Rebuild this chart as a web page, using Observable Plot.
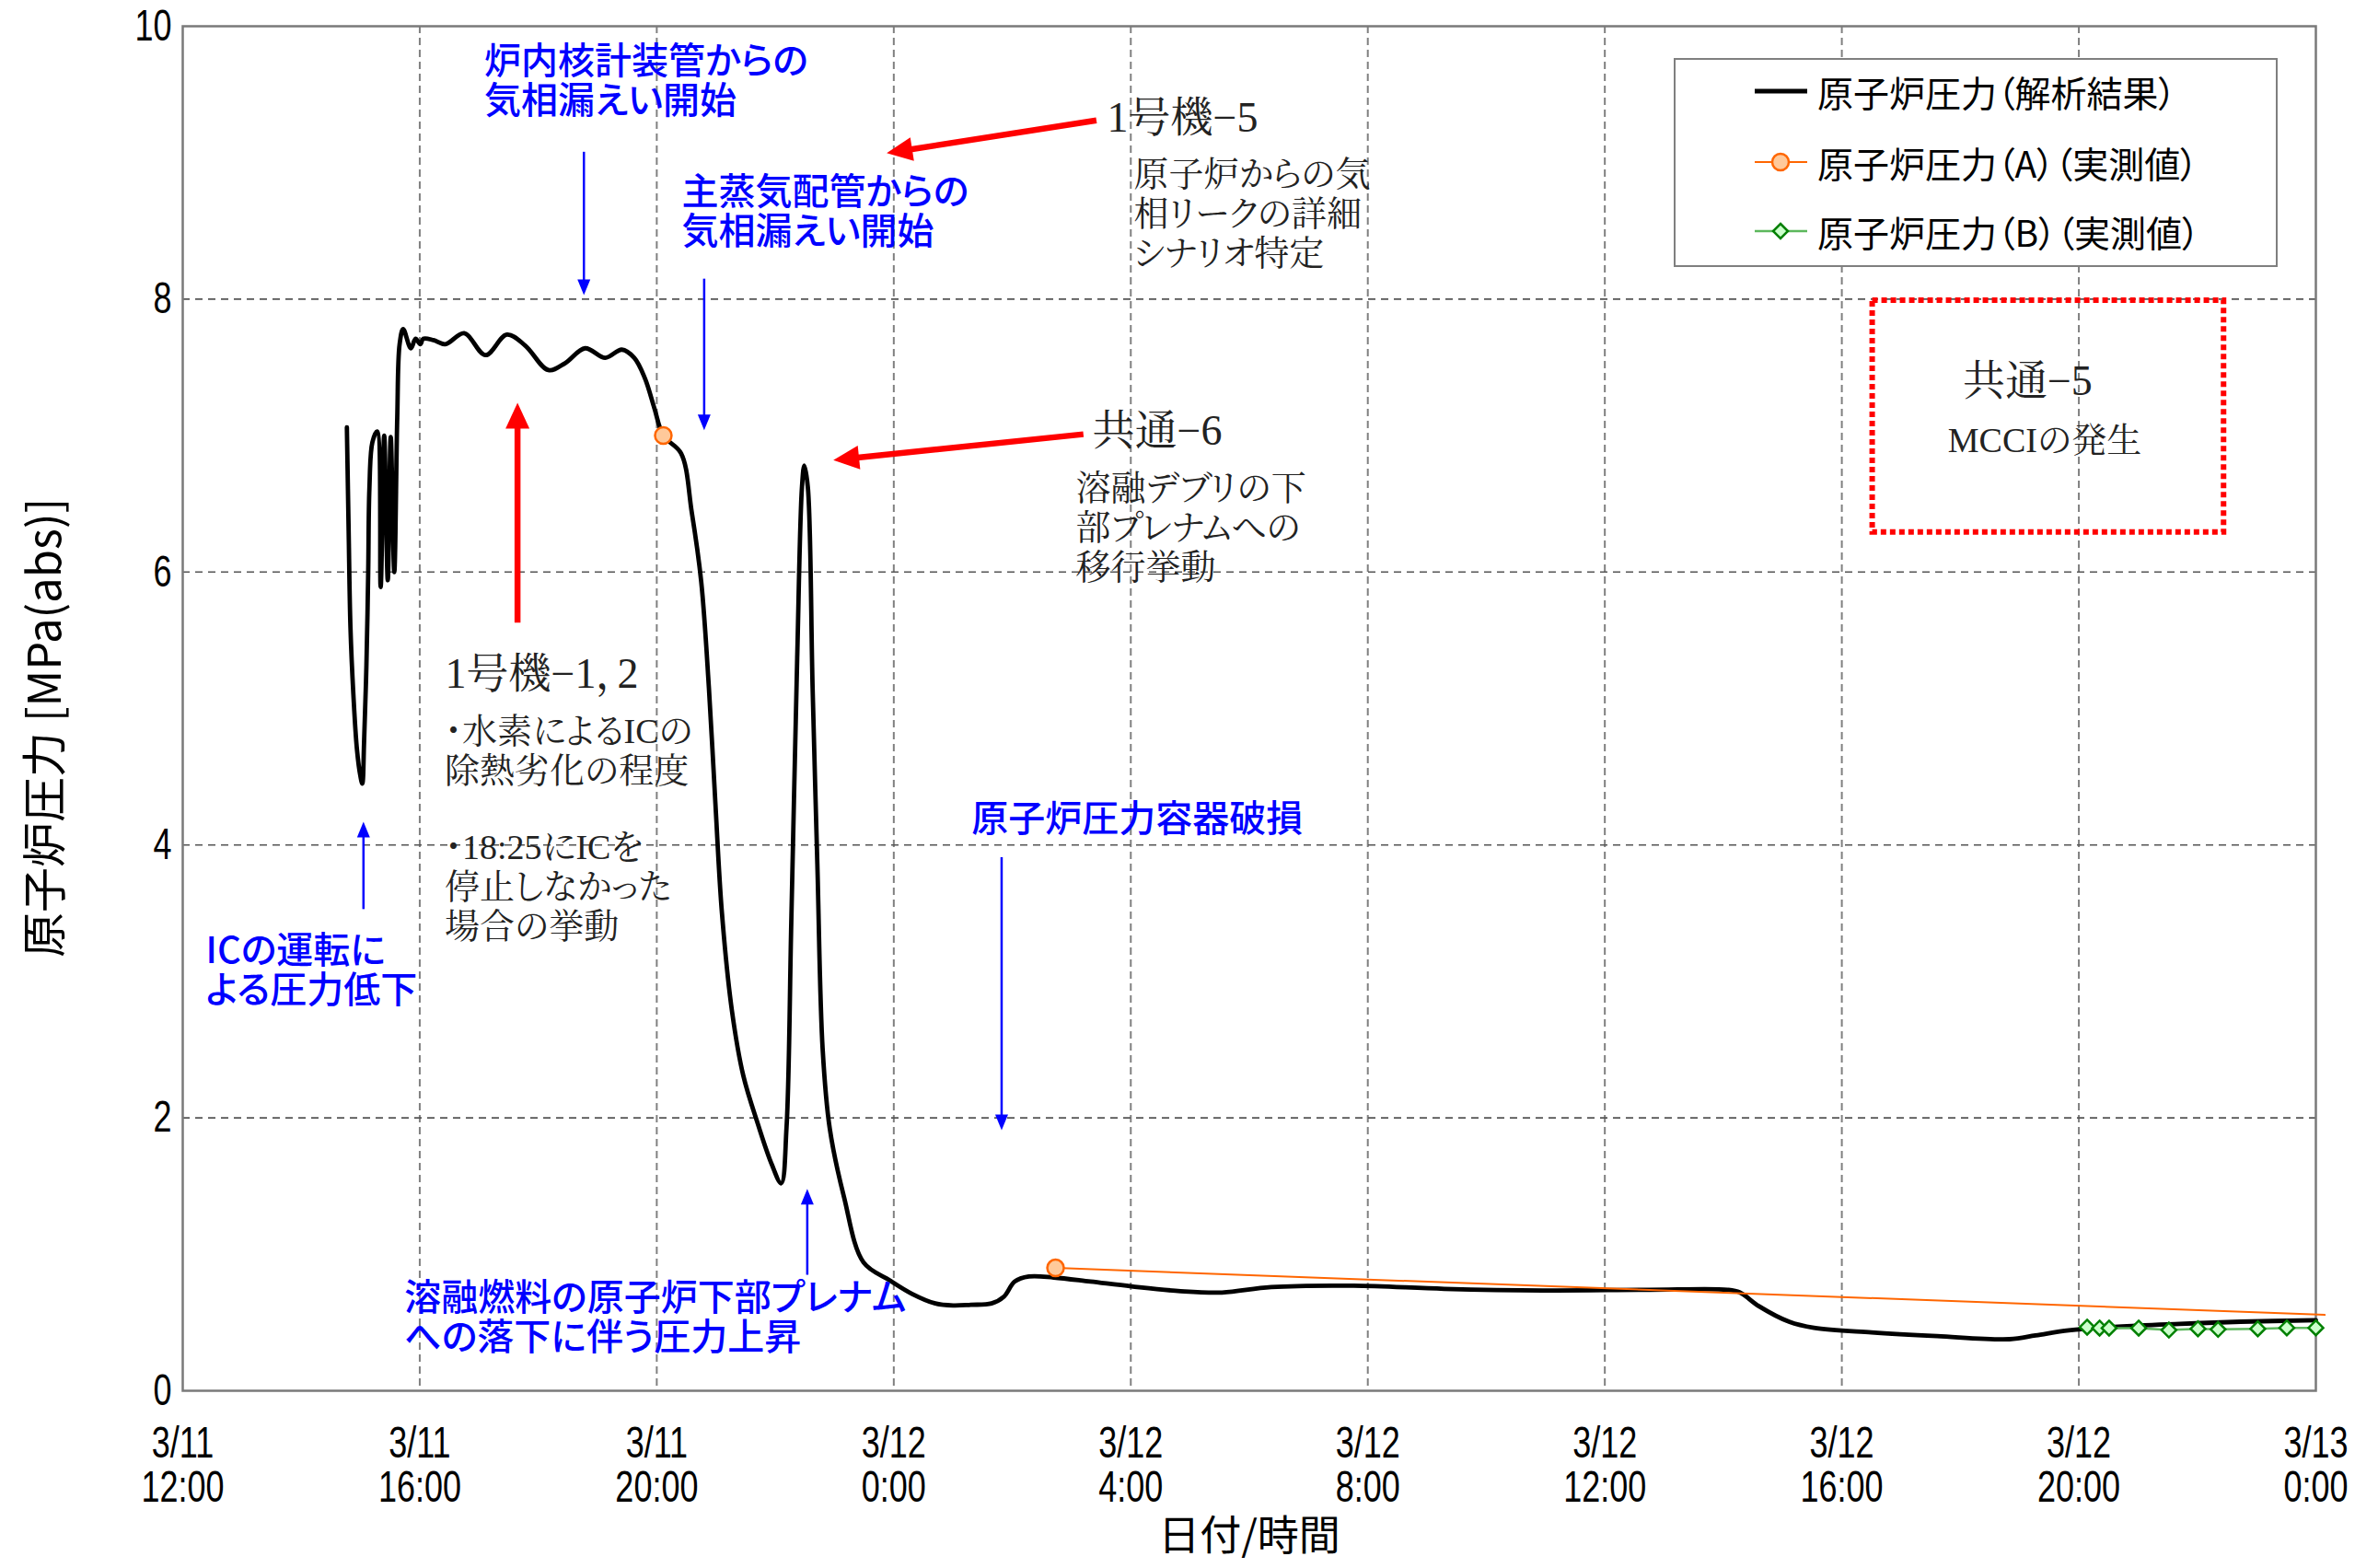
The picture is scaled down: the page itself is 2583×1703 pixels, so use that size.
<!DOCTYPE html>
<html><head><meta charset="utf-8">
<script src="https://cdn.jsdelivr.net/npm/d3@7"></script>
<script src="https://cdn.jsdelivr.net/npm/@observablehq/plot@0.6"></script>
<style>
html,body{margin:0;padding:0;background:#fff;}
#wrap{position:relative;width:2583px;height:1703px;overflow:hidden;background:#fff;}
#legend{position:absolute;left:1818px;top:63px;width:652px;height:223px;border:2px solid #7f7f7f;background:#fff;
  font-family:"Noto Sans CJK JP",sans-serif;font-feature-settings:"palt";font-size:39px;color:#000;}
.row{position:absolute;left:0;height:60px;display:flex;align-items:center;white-space:nowrap;}
.row svg{margin-left:86px;flex:none;}
.row span{margin-left:8px;}
</style></head><body><div id="wrap"></div>
<script>
// ---- data (time = hours since 3/11 12:00, pressure in MPa(abs)) ----
const xTicks = [0, 4, 8, 12, 16, 20, 24, 28, 32, 36];
const xTickLabels = ["3/11\n12:00","3/11\n16:00","3/11\n20:00","3/12\n0:00","3/12\n4:00","3/12\n8:00","3/12\n12:00","3/12\n16:00","3/12\n20:00","3/13\n0:00"];
const yTicks = [0, 2, 4, 6, 8, 10];
const xAxisLabel = "日付/時間";
const yAxisLabel = "原子炉圧力 [MPa(abs)]";
const legendLabels = ["原子炉圧力（解析結果）", "原子炉圧力（A）（実測値）", "原子炉圧力（B）（実測値）"];

const analysisHours = [2.77,2.80,2.83,2.88,2.94,3.00,3.03,3.06,3.10,3.13,3.15,3.20,3.28,3.34,3.40,3.46,3.51,3.57,3.62,3.66,3.72,3.85,3.93,4.01,4.06,4.23,4.43,4.75,5.11,5.47,5.78,6.17,6.45,6.79,7.13,7.41,7.62,7.80,7.96,8.11,8.41,8.59,8.75,8.88,8.99,9.10,9.27,9.46,9.71,9.94,10.10,10.19,10.27,10.37,10.45,10.49,10.55,10.63,10.71,10.80,10.92,11.16,11.49,11.93,12.31,12.70,13.00,13.30,13.65,13.86,14.04,14.28,14.70,15.32,16.01,16.84,17.54,18.37,19.76,21.29,22.95,24.75,26.07,26.28,26.60,27.11,27.53,28.50,29.61,30.83,31.27,31.83,32.66,33.70,34.73,36.00];
const analysisPressure = [7.06,6.30,5.60,5.10,4.70,4.50,4.45,4.75,5.32,6.00,6.61,6.95,7.03,5.89,7.00,5.94,6.99,6.00,7.13,7.67,7.78,7.64,7.71,7.67,7.71,7.70,7.67,7.75,7.59,7.74,7.66,7.48,7.53,7.64,7.57,7.63,7.57,7.42,7.20,7.00,6.87,6.44,5.93,5.15,4.30,3.50,2.78,2.31,1.95,1.66,1.52,1.93,3.43,5.37,6.62,6.78,6.62,5.15,3.86,2.50,1.92,1.42,0.94,0.81,0.71,0.64,0.625,0.63,0.64,0.69,0.80,0.837,0.83,0.80,0.765,0.73,0.72,0.76,0.77,0.747,0.735,0.74,0.74,0.72,0.62,0.506,0.461,0.427,0.40,0.378,0.405,0.443,0.47,0.49,0.506,0.517];

const measuredAHours = [8.11, 11.40, 14.73, 36.15];
const measuredAPressure = [7.00, null, 0.90, 0.556];

const measuredBHours = [32.14, 32.35, 32.51, 33.01, 33.52, 34.01, 34.35, 35.02, 35.51, 36.00];
const measuredBPressure = [0.466, 0.459, 0.459, 0.459, 0.445, 0.454, 0.450, 0.454, 0.461, 0.461];

// annotations (in data coordinates)
const blueNotes = [
  {text: "炉内核計装管からの\n気相漏えい開始", h: 5.09, p: 9.60},
  {text: "主蒸気配管からの\n気相漏えい開始", h: 8.42, p: 8.64},
  {text: "ICの運転に\nよる圧力低下", h: 0.39, p: 3.08},
  {text: "原子炉圧力容器破損", h: 13.31, p: 4.19},
  {text: "溶融燃料の原子炉下部プレナム\nへの落下に伴う圧力上昇", h: 3.74, p: 0.54}
];
const blueArrows = [
  {h1: 6.77, p1: 9.08, h2: 6.77, p2: 8.03},
  {h1: 8.80, p1: 8.15, h2: 8.80, p2: 7.04},
  {h1: 3.05, p1: 3.53, h2: 3.05, p2: 4.17},
  {h1: 13.82, p1: 3.91, h2: 13.82, p2: 1.91},
  {h1: 10.54, p1: 0.85, h2: 10.54, p2: 1.48}
];
const redArrows = [
  {h1: 15.42, p1: 9.31, h2: 11.88, p2: 9.07},
  {h1: 15.20, p1: 7.01, h2: 10.98, p2: 6.82},
  {h1: 5.65, p1: 5.63, h2: 5.65, p2: 7.24}
];
const titleNotes = [
  {text: "1号機−5", h: 15.60, p: 9.33},
  {text: "共通−6", h: 15.35, p: 7.03},
  {text: "1号機−1，2", h: 4.43, p: 5.25},
  {text: "共通−5", h: 30.04, p: 7.40}
];
const bodyNotes = [
  {text: "原子炉からの気\n相リークの詳細\nシナリオ特定", h: 16.05, p: 8.63},
  {text: "溶融デブリの下\n部プレナムへの\n移行挙動", h: 15.07, p: 6.33},
  {text: "・水素によるICの\n除熱劣化の程度", h: 4.42, p: 4.695},
  {text: "・18:25にICを\n停止しなかった\n場合の挙動", h: 4.42, p: 3.70},
  {text: "MCCIの発生", h: 29.79, p: 6.97}
];
const mcciBox = [{h1: 28.52, h2: 34.45, p1: 6.29, p2: 7.99}];

// ---- build ----
const analysis = analysisHours.map((h, i) => ({h, p: analysisPressure[i]}));
const measuredA = measuredAHours.map((h, i) => ({h, p: measuredAPressure[i]}));
const measuredB = measuredBHours.map((h, i) => ({h, p: measuredBPressure[i]}));

const tickFont = "'Liberation Sans',Arial,sans-serif";
const gothic = "'Noto Sans CJK JP',sans-serif";
const serif = "'Liberation Serif','Noto Serif CJK JP','Noto Sans CJK JP',serif";

const svg = Plot.plot({
  width: 2583, height: 1703,
  marginLeft: 198, marginRight: 68, marginTop: 28, marginBottom: 193,
  x: {type: "linear", domain: [0, 36]},
  y: {domain: [0, 10]},
  style: {background: "#fff", color: "#000", overflow: "visible", fontFeatureSettings: "'palt'"},
  marks: [
    Plot.gridX(xTicks.slice(1, -1), {stroke: "#808080", strokeOpacity: 1, strokeWidth: 2, strokeDasharray: "8,5"}),
    Plot.gridY(yTicks.slice(1, -1), {stroke: "#555", strokeOpacity: 1, strokeWidth: 1.6, strokeDasharray: "8,6"}),
    Plot.frame({stroke: "#7a7a7a", strokeWidth: 2.5}),
    Plot.axisX(xTicks, {tickSize: 0, tickPadding: 38, tickFormat: d => xTickLabels[xTicks.indexOf(d)], fontSize: 48, fontFamily: tickFont, lineHeight: 1.0, label: null}),
    Plot.axisY(yTicks, {tickSize: 0, tickPadding: 12, tickFormat: d => String(d), fontSize: 48, fontFamily: tickFont, label: null}),
    Plot.text([xAxisLabel], {text: d => d, frameAnchor: "bottom", lineAnchor: "middle", textAnchor: "middle", dy: 159, fontSize: 45, fontFamily: gothic}),
    Plot.text([yAxisLabel], {text: d => d, frameAnchor: "left", textAnchor: "middle", lineAnchor: "middle", rotate: -90, dx: -148, dy: 21, fontSize: 49, fontFamily: gothic}),
    Plot.rect(mcciBox, {x1: "h1", x2: "h2", y1: "p1", y2: "p2", fill: "none", stroke: "#ff0000", strokeWidth: 6, strokeDasharray: "6,4"}),
    Plot.line(analysis, {x: "h", y: "p", stroke: "#000", strokeWidth: 4.8, curve: "catmull-rom"}),
    Plot.line(measuredA, {x: "h", y: "p", stroke: "#ff6600", strokeWidth: 2}),
    Plot.dot(measuredA.filter(d => d.p != null && d.h <= 36), {x: "h", y: "p", r: 9, fill: "#ffc99a", stroke: "#ff6600", strokeWidth: 2.5}),
    Plot.line(measuredB, {x: "h", y: "p", stroke: "#5cb85c", strokeWidth: 2.5}),
    Plot.dot(measuredB, {x: "h", y: "p", symbol: "diamond2", r: 7.2, fill: "#ccffcc", stroke: "#008000", strokeWidth: 2.5}),
    Plot.link(blueArrows, {x1: "h1", y1: "p1", x2: "h2", y2: "p2", stroke: "#0000ff", strokeWidth: 2.5}),
    Plot.link(redArrows, {x1: "h1", y1: "p1", x2: "h2", y2: "p2", stroke: "#ff0000", strokeWidth: 6.5}),
    Plot.text(blueNotes, {x: "h", y: "p", text: "text", textAnchor: "start", lineAnchor: "middle", fontSize: 40, lineHeight: 1.07, fill: "#0000ff", fontFamily: gothic, fontWeight: 500}),
    Plot.text(titleNotes, {x: "h", y: "p", text: "text", textAnchor: "start", lineAnchor: "middle", fontSize: 46, fill: "#222", fontFamily: serif}),
    Plot.text(bodyNotes, {x: "h", y: "p", text: "text", textAnchor: "start", lineAnchor: "middle", fontSize: 38, lineHeight: 1.13, fill: "#222", fontFamily: serif})
  ]
});

// condensed look for the tick labels (as in the original narrow font)
d3.select(svg).selectAll('g[aria-label="x-axis tick label"] text, g[aria-label="y-axis tick label"] text').each(function() {
  const t = this.getAttribute("transform") || "";
  this.setAttribute("transform", t + " scale(0.75,1)");
});

// filled triangular arrow heads on link marks
function addHeads(g, color, len, wid) {
  const gs = d3.select(g);
  gs.selectAll("path").nodes().forEach(path => {
    const n = path.getAttribute("d").match(/-?\d*\.?\d+(?:e[-+]?\d+)?/g).map(Number);
    const x1 = n[0], y1 = n[1], x2 = n[n.length - 2], y2 = n[n.length - 1];
    const L = Math.hypot(x2 - x1, y2 - y1);
    const ux = (x2 - x1) / L, uy = (y2 - y1) / L;
    const ex = x2 - ux * len * 0.6, ey = y2 - uy * len * 0.6;
    path.setAttribute("d", `M${x1},${y1}L${ex},${ey}`);
    const bx = x2 - ux * len, by = y2 - uy * len, px = -uy * wid / 2, py = ux * wid / 2;
    gs.append("path").attr("d", `M${x2},${y2}L${bx + px},${by + py}L${bx - px},${by - py}Z`)
      .attr("fill", color).attr("stroke", "none");
  });
}
const links = d3.select(svg).selectAll('g[aria-label="link"]').nodes();
if (links[0]) addHeads(links[0], "#0000ff", 17, 14);
if (links[1]) addHeads(links[1], "#ff0000", 28, 26);

const wrap = document.getElementById("wrap");
wrap.appendChild(svg);

// legend overlay (inside plot area, as in the original)
const legend = document.createElement("div");
legend.id = "legend";
const rowsTop = [4, 81, 156];
const swatches = [
  `<svg width="60" height="30"><line x1="0" y1="15" x2="57" y2="15" stroke="#000" stroke-width="5"/></svg>`,
  `<svg width="60" height="30"><line x1="0" y1="15" x2="57" y2="15" stroke="#ff6600" stroke-width="2"/><circle cx="28" cy="15" r="9" fill="#ffc99a" stroke="#ff6600" stroke-width="2.5"/></svg>`,
  `<svg width="60" height="30"><line x1="0" y1="15" x2="57" y2="15" stroke="#5cb85c" stroke-width="2.5"/><path d="M28,7L36,15L28,23L20,15Z" fill="#ccffcc" stroke="#008000" stroke-width="2.5"/></svg>`
];
legendLabels.forEach((lab, i) => {
  const row = document.createElement("div");
  row.className = "row";
  row.style.top = rowsTop[i] + "px";
  row.innerHTML = swatches[i] + `<span>${lab}</span>`;
  legend.appendChild(row);
});
wrap.appendChild(legend);
</script></body></html>
